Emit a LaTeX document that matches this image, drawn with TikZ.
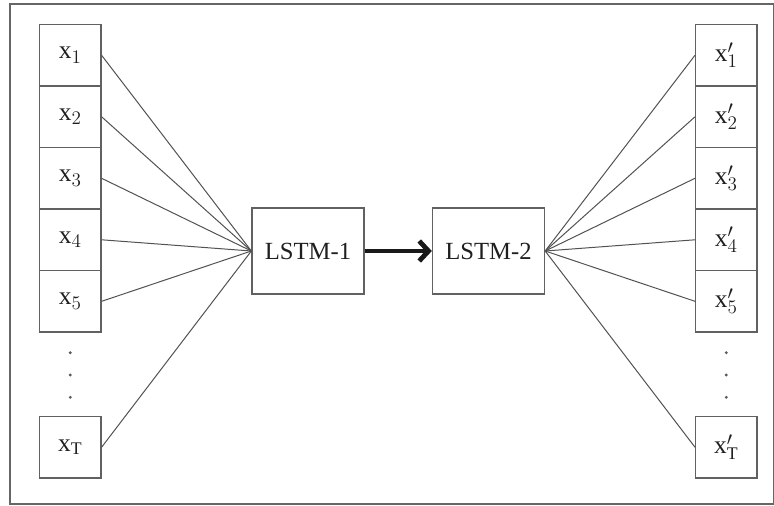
\documentclass[tikz,border=0pt]{standalone}
\usepackage{fontspec}
\setmainfont{Liberation Serif}
\usetikzlibrary{arrows.meta}
\tikzset{
  cell/.style={draw=black!62,line width=1pt,minimum width=46pt,minimum height=46pt,inner sep=0pt,font=\fontsize{19}{21}\selectfont,text=black!88},
  unit/.style={draw=black!62,line width=1pt,minimum width=84pt,minimum height=64.5pt,inner sep=0pt,font=\fontsize{18.5}{21}\selectfont,text=black!88},
  link/.style={black!68,line width=0.75pt},
  vdot/.style={circle,fill=black!65,inner sep=0pt,minimum size=2.4pt}
}
\begin{document}
\begin{tikzpicture}[x=0.75pt,y=-0.75pt]
		\useasboundingbox (0,0) rectangle (774,506);
		\draw[black!60,line width=0.9pt] (10,4) rectangle (774,504);
		% inputs
		\node[cell](in1) at (70.3,55.3){$\mathrm{x}_1$};
		\node[cell](in2) at (70.3,116.8){$\mathrm{x}_2$};
		\node[cell](in3) at (70.3,178.3){$\mathrm{x}_3$};
		\node[cell](in4) at (70.3,239.8){$\mathrm{x}_4$};
		\node[cell](in5) at (70.3,301.3){$\mathrm{x}_5$};
		\node[vdot](ia) at (70.3,352.7){};
		\node[vdot](ib) at (70.3,375){};
		\node[vdot](ic) at (70.3,397.3){};
		\node[cell](inT) at (70.3,447.2){$\mathrm{x}_\mathrm{T}$};
		% encoder and decoder
		\node[unit](lstma) at (308,251){LSTM-1};
		\node[unit](lstmb) at (488.5,251){LSTM-2};
		% outputs
		\node[cell](out1) at (726.3,55.3){$\mathrm{x}'_1$};
		\node[cell](out2) at (726.3,116.8){$\mathrm{x}'_2$};
		\node[cell](out3) at (726.3,178.3){$\mathrm{x}'_3$};
		\node[cell](out4) at (726.3,239.8){$\mathrm{x}'_4$};
		\node[cell](out5) at (726.3,301.3){$\mathrm{x}'_5$};
		\node[vdot](oa) at (726.3,352.7){};
		\node[vdot](ob) at (726.3,375){};
		\node[vdot](oc) at (726.3,397.3){};
		\node[cell](outT) at (726.3,447.2){$\mathrm{x}'_\mathrm{T}$};
		\draw[link](in1.east)--(lstma.west);
		\draw[link](in2.east)--(lstma.west);
		\draw[link](in3.east)--(lstma.west);
		\draw[link](in4.east)--(lstma.west);
		\draw[link](in5.east)--(lstma.west);
		\draw[link](inT.east)--(lstma.west);
		\draw[black!90,line width=3.6pt,-{Straight Barb[length=7pt,width=15pt]}](lstma.east)--(lstmb.west);
		\draw[link](lstmb.east)--(out1.west);
		\draw[link](lstmb.east)--(out2.west);
		\draw[link](lstmb.east)--(out3.west);
		\draw[link](lstmb.east)--(out4.west);
		\draw[link](lstmb.east)--(out5.west);
		\draw[link](lstmb.east)--(outT.west);
	\end{tikzpicture}
\end{document}
